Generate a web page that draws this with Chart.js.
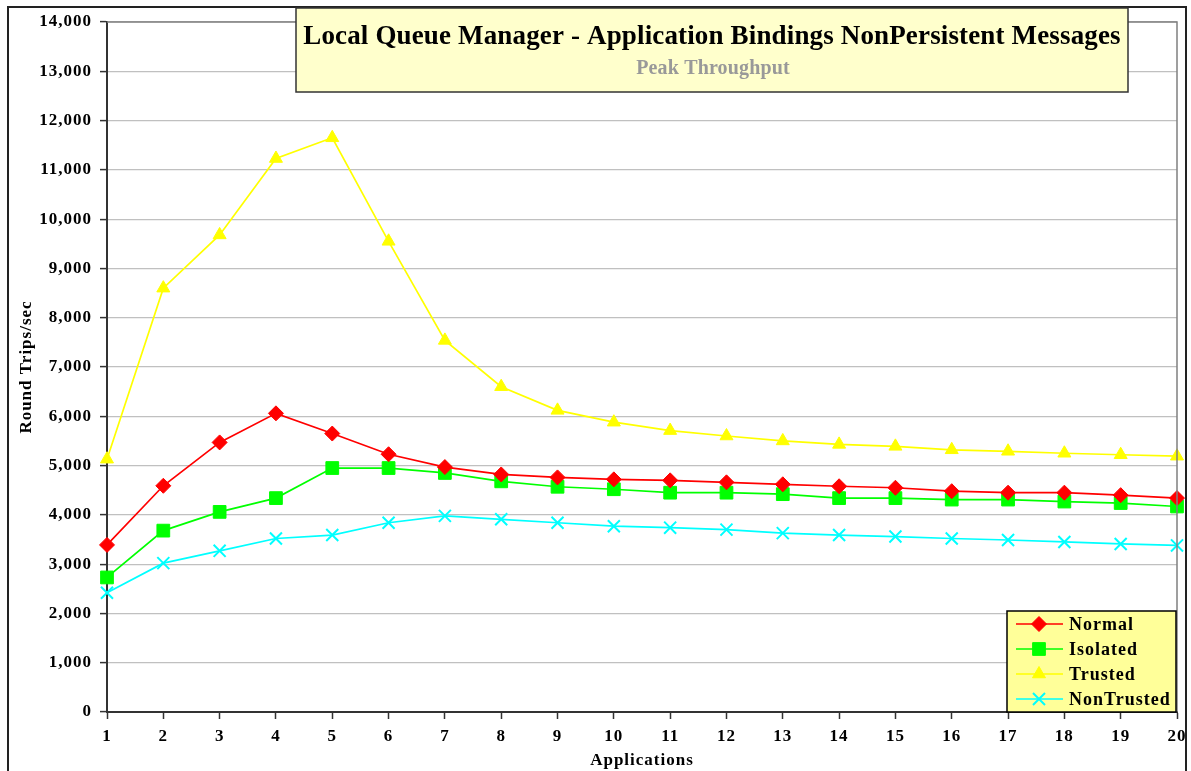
<!DOCTYPE html>
<html>
<head>
<meta charset="utf-8">
<title>Local Queue Manager - Application Bindings NonPersistent Messages</title>
<script src="https://cdn.jsdelivr.net/npm/chart.js@4.4.1/dist/chart.umd.min.js"></script>
<style>
  html, body { margin: 0; padding: 0; background: #fff; }
  #wrap { position: relative; width: 1191px; height: 771px; }
</style>
</head>
<body>
<div id="wrap"><canvas id="grafico" width="1191" height="771"></canvas></div>
<script>
const applications = ['1','2','3','4','5','6','7','8','9','10','11','12','13','14','15','16','17','18','19','20'];

const normal     = [3390, 4590, 5470, 6060, 5650, 5230, 4970, 4820, 4760, 4720, 4700, 4660, 4620, 4580, 4550, 4480, 4450, 4450, 4400, 4340];
const isolated   = [2730, 3680, 4060, 4340, 4950, 4950, 4850, 4680, 4570, 4520, 4450, 4450, 4420, 4340, 4340, 4310, 4310, 4270, 4240, 4170];
const trusted    = [5130, 8600, 9680, 11230, 11650, 9550, 7540, 6600, 6120, 5880, 5710, 5600, 5500, 5430, 5390, 5320, 5290, 5250, 5220, 5190];
const nonTrusted = [2420, 3020, 3270, 3520, 3590, 3840, 3980, 3910, 3840, 3770, 3740, 3700, 3630, 3590, 3560, 3520, 3490, 3450, 3410, 3380];

const seriesNames = ['Normal', 'Isolated', 'Trusted', 'NonTrusted'];
const yTicks = [0, 1000, 2000, 3000, 4000, 5000, 6000, 7000, 8000, 9000, 10000, 11000, 12000, 13000, 14000];

const chartTitle = 'Local Queue Manager - Application Bindings NonPersistent Messages';
const chartSubtitle = 'Peak Throughput';

const FONT = '"Liberation Serif", "Times New Roman", serif';

// texto um pouco espaçado, como no Excel
const espacamento = {
  id: 'espacamento',
  beforeUpdate(chart) { chart.ctx.letterSpacing = '1px'; },
  beforeDraw(chart) { chart.ctx.letterSpacing = '1px'; }
};

// moldura externa, borda da área de plotagem, caixa de título e legenda
const decor = {
  id: 'decor',
  afterDraw(chart) {
    const ctx = chart.ctx;
    const a = chart.chartArea;
    ctx.save();

    ctx.strokeStyle = '#808080';
    ctx.lineWidth = 1.5;
    ctx.beginPath();
    ctx.moveTo(a.left, a.top);
    ctx.lineTo(a.right, a.top);
    ctx.lineTo(a.right, a.bottom);
    ctx.stroke();

    ctx.strokeStyle = '#222';
    ctx.lineWidth = 2;
    ctx.beginPath();
    ctx.moveTo(8, 775);
    ctx.lineTo(8, 7);
    ctx.lineTo(1186, 7);
    ctx.lineTo(1186, 775);
    ctx.stroke();

    // título
    ctx.fillStyle = '#ffffcc';
    ctx.fillRect(296, 8, 832, 84);
    ctx.strokeStyle = '#333';
    ctx.lineWidth = 1.5;
    ctx.strokeRect(296, 8, 832, 84);
    ctx.textAlign = 'center';
    ctx.textBaseline = 'middle';
    ctx.letterSpacing = '0.15px';
    ctx.fillStyle = '#000';
    ctx.font = 'bold 27px ' + FONT;
    ctx.fillText(chartTitle, 712, 37);
    ctx.fillStyle = '#999';
    ctx.font = 'bold 20px ' + FONT;
    ctx.fillText(chartSubtitle, 713, 69);

    // legenda
    const lx = 1007, ly = 611, lw = 169, lh = 101;
    ctx.fillStyle = '#ffff99';
    ctx.fillRect(lx, ly, lw, lh);
    ctx.strokeStyle = '#000';
    ctx.lineWidth = 1.5;
    ctx.strokeRect(lx, ly, lw, lh);

    ctx.letterSpacing = '1px';
    chart.data.datasets.forEach((ds, i) => {
      const y = ly + 13 + i * 25;
      ctx.strokeStyle = ds.borderColor;
      ctx.lineWidth = 1.6;
      ctx.beginPath();
      ctx.moveTo(lx + 9, y);
      ctx.lineTo(lx + 56, y);
      ctx.stroke();
      ctx.fillStyle = ds.pointBackgroundColor;
      ctx.strokeStyle = ds.pointBorderColor;
      ctx.lineWidth = ds.pointBorderWidth;
      Chart.helpers.drawPoint(ctx, {
        pointStyle: ds.pointStyle,
        radius: ds.pointRadius,
        borderWidth: ds.pointBorderWidth
      }, lx + 32, y);
      ctx.fillStyle = '#000';
      ctx.textAlign = 'left';
      ctx.font = 'bold 18px ' + FONT;
      ctx.fillText(ds.label, lx + 62, y + 1);
    });

    ctx.restore();
  }
};

function serie(label, data, color, style, radius, bw) {
  return {
    label: label,
    data: data,
    borderColor: color,
    backgroundColor: color,
    pointBackgroundColor: color,
    pointBorderColor: color,
    pointStyle: style,
    pointRadius: radius,
    pointBorderWidth: bw,
    borderWidth: 1.7,
    tension: 0
  };
}

new Chart(document.getElementById('grafico'), {
  type: 'line',
  data: {
    labels: applications,
    datasets: [
      serie(seriesNames[0], normal, '#ff0000', 'rectRot', 7.5, 1),
      serie(seriesNames[1], isolated, '#00ff00', 'rect', 9, 1),
      serie(seriesNames[2], trusted, '#ffff00', 'triangle', 7.5, 1),
      serie(seriesNames[3], nonTrusted, '#00ffff', 'crossRot', 8.5, 2)
    ]
  },
  options: {
    responsive: false,
    animation: false,
    events: [],
    layout: { padding: { left: 10, top: 22, right: 14, bottom: 0 } },
    plugins: {
      legend: { display: false },
      title: { display: false },
      tooltip: { enabled: false }
    },
    scales: {
      x: {
        offset: false,
        afterFit: s => { s.height = 59; s.paddingLeft = 0; s.paddingRight = 0; },
        grid: {
          drawOnChartArea: false,
          drawTicks: true,
          tickLength: 7,
          tickColor: '#333',
          tickWidth: 1.5
        },
        border: { color: '#333', width: 2 },
        ticks: {
          color: '#000',
          padding: 7,
          maxRotation: 0,
          autoSkip: false,
          font: { family: FONT, size: 17, weight: 'bold' }
        },
        title: {
          display: true,
          text: 'Applications',
          color: '#000',
          padding: { top: -8, bottom: 0 },
          font: { family: FONT, size: 17, weight: 'bold' }
        }
      },
      y: {
        min: 0,
        max: 14000,
        afterFit: s => { s.width = 97; s.paddingTop = 0; s.paddingBottom = 0; },
        afterBuildTicks: s => { s.ticks = yTicks.map(v => ({ value: v })); },
        grid: {
          color: '#c0c0c0',
          lineWidth: 1.2,
          tickColor: '#333',
          tickLength: 7,
          tickWidth: 1.5
        },
        border: { color: '#333', width: 2 },
        ticks: {
          color: '#000',
          padding: 8,
          font: { family: FONT, size: 17, weight: 'bold' },
          callback: v => v.toLocaleString('en-US')
        },
        title: {
          display: true,
          text: 'Round Trips/sec',
          color: '#000',
          padding: { top: 6, bottom: 0 },
          font: { family: FONT, size: 17, weight: 'bold' }
        }
      }
    }
  },
  plugins: [espacamento, decor]
});
</script>
</body>
</html>
